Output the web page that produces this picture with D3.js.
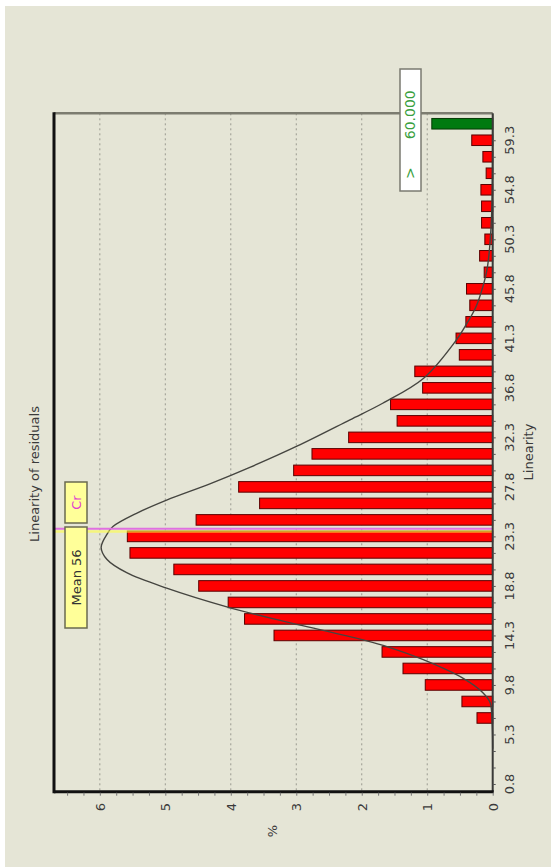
<!DOCTYPE html>
<html lang="en">
<head>
<meta charset="UTF-8">
<title>Linearity of residuals</title>
<style>
  body { margin: 0; background: #fff; }
  svg text { font-family: "DejaVu Sans", Verdana, sans-serif; fill: #3a3a3a; }
</style>
<script src="https://cdn.jsdelivr.net/npm/d3@7"></script>
</head>
<body>
<svg id="chart" width="551" height="867"></svg>
<script>
// histogram bins (centre of each linearity class); the last one is the "> 60.000" overflow
const binCenters = [0.8, 2.3, 3.8, 5.3, 6.8, 8.3, 9.8, 11.3, 12.8, 14.3,
                    15.8, 17.3, 18.8, 20.3, 21.8, 23.3, 24.8, 26.3, 27.8, 29.3,
                    30.8, 32.3, 33.8, 35.3, 36.8, 38.3, 39.8, 41.3, 42.8, 44.3,
                    45.8, 47.3, 48.8, 50.3, 51.8, 53.3, 54.8, 56.3, 57.8, 59.3,
                    60.8];
const binPercent = [0, 0, 0, 0, 0.24, 0.47, 1.03, 1.37, 1.69, 3.34,
                    3.79, 4.04, 4.49, 4.87, 5.54, 5.58, 4.53, 3.56, 3.88, 3.04,
                    2.76, 2.20, 1.46, 1.56, 1.07, 1.19, 0.51, 0.56, 0.41, 0.35,
                    0.40, 0.13, 0.20, 0.12, 0.17, 0.17, 0.18, 0.10, 0.15, 0.32,
                    0.93];

// fitted curve
const curveLin = [4.0, 6.5, 8.2, 9.1, 10.4, 12.1, 13.2, 13.9, 15.6, 16.9, 18.6, 20.0,
                  21.2, 22.3, 23.6, 24.2, 25.4, 26.6, 28.1, 29.6, 31.5, 33.9, 35.4,
                  37.7, 41.1, 42.3, 44.1, 46.0, 47.8, 52.0, 61.7];
const curvePct = [0.0, 0.01, 0.04, 0.15, 0.45, 1.06, 1.57, 1.98, 3.20, 4.06, 4.98, 5.59,
                  5.89, 5.98, 5.88, 5.80, 5.44, 4.98, 4.31, 3.70, 2.99, 2.18, 1.68,
                  1.05, 0.56, 0.43, 0.26, 0.15, 0.08, 0.02, 0.0];

const linTicks = [0.8, 5.3, 9.8, 14.3, 18.8, 23.3, 27.8, 32.3, 36.8, 41.3, 45.8, 50.3, 54.8, 59.3];
const pctTicks = [0, 1, 2, 3, 4, 5, 6];

const meanValue = 23.75;
const crValue = 24.0;
const overflowLabel = "60.000";

// the chart is drawn rotated: linearity runs up the page, % runs right-to-left
const plotLeft = 54, plotRight = 492.7, plotTop = 113.3, plotBottom = 791.7;
const yLin = d3.scaleLinear().domain([0.1, 61.75]).range([plotBottom, plotTop]);
const xPct = d3.scaleLinear().domain([0, 6.7]).range([plotRight, plotLeft]);

const svg = d3.select("#chart");

svg.append("rect")
    .attr("x", 5).attr("y", 6).attr("width", 546).attr("height", 861)
    .attr("fill", "#e5e5d6");

// grid
svg.append("g").selectAll("line")
    .data(pctTicks.filter(d => d > 0))
    .join("line")
    .attr("x1", d => xPct(d)).attr("x2", d => xPct(d))
    .attr("y1", plotTop).attr("y2", plotBottom)
    .attr("stroke", "#9a9a90").attr("stroke-width", 1)
    .attr("stroke-dasharray", "2,3");

// bars
const bins = binCenters.map((c, i) => ({ c, p: binPercent[i], over: i === binCenters.length - 1 }));
svg.append("g").selectAll("rect")
    .data(bins.filter(d => d.p > 0))
    .join("rect")
    .attr("x", d => xPct(d.p))
    .attr("width", d => xPct(0) - xPct(d.p))
    .attr("y", d => yLin(d.c + 0.48))
    .attr("height", d => yLin(d.c - 0.48) - yLin(d.c + 0.48))
    .attr("fill", d => d.over ? "#007a10" : "#ff0000")
    .attr("stroke", d => d.over ? "#063a06" : "#5a0000")
    .attr("stroke-width", 1);

// fitted curve
const pts = curveLin.map((l, i) => [l, curvePct[i]]);
svg.append("path")
    .datum(pts)
    .attr("fill", "none")
    .attr("stroke", "#454540")
    .attr("stroke-width", 1.4)
    .attr("d", d3.line()
        .x(d => xPct(d[1]))
        .y(d => yLin(d[0]))
        .curve(d3.curveCatmullRom));

// cr and mean lines
svg.append("line")
    .attr("x1", plotLeft).attr("x2", plotRight)
    .attr("y1", yLin(meanValue)).attr("y2", yLin(meanValue))
    .attr("stroke", "#ffff40").attr("stroke-opacity", 0.6).attr("stroke-width", 2.5);
svg.append("line")
    .attr("x1", plotLeft).attr("x2", plotRight)
    .attr("y1", yLin(crValue)).attr("y2", yLin(crValue))
    .attr("stroke", "#e070e0").attr("stroke-width", 2);

// frame
svg.append("line").attr("x1", plotLeft).attr("x2", plotRight).attr("y1", plotTop).attr("y2", plotTop)
    .attr("stroke", "#7c7c70").attr("stroke-width", 2.5);
svg.append("line").attr("x1", plotRight).attr("x2", plotRight).attr("y1", plotTop).attr("y2", plotBottom)
    .attr("stroke", "#3a3a38").attr("stroke-width", 2);
svg.append("line").attr("x1", plotLeft).attr("x2", plotLeft).attr("y1", plotTop - 1).attr("y2", plotBottom + 1.5)
    .attr("stroke", "#111").attr("stroke-width", 3);
svg.append("line").attr("x1", plotLeft).attr("x2", plotRight + 1).attr("y1", plotBottom).attr("y2", plotBottom)
    .attr("stroke", "#111").attr("stroke-width", 3);

// linearity axis (right side of the page)
const linAxis = svg.append("g")
    .attr("transform", `translate(${plotRight},0)`)
    .call(d3.axisRight(yLin).tickValues(binCenters.slice(0, -1)).tickSize(3).tickFormat(""));
linAxis.select(".domain").remove();
linAxis.selectAll("line").attr("stroke", "#555");

svg.append("g").selectAll("text")
    .data(linTicks)
    .join("text")
    .attr("transform", d => `translate(514,${yLin(d)}) rotate(-90)`)
    .attr("text-anchor", "middle")
    .attr("font-size", 13)
    .text(d => d.toFixed(1));

// % axis (bottom of the page)
const pctAxis = svg.append("g")
    .attr("transform", `translate(0,${plotBottom + 1})`)
    .call(d3.axisBottom(xPct).tickValues(d3.range(0, 6.75, 0.25)).tickSize(3).tickFormat(""));
pctAxis.select(".domain").remove();
pctAxis.selectAll("line").attr("stroke", "#777");

svg.append("g").selectAll("text")
    .data(pctTicks)
    .join("text")
    .attr("transform", d => `translate(${xPct(d) + 5},803) rotate(-90)`)
    .attr("text-anchor", "end")
    .attr("font-size", 13)
    .text(d => d);

// titles
svg.append("text")
    .attr("transform", "translate(39,474) rotate(-90)")
    .attr("text-anchor", "middle")
    .attr("font-size", 13)
    .text("Linearity of residuals");
svg.append("text")
    .attr("transform", "translate(533,452) rotate(-90)")
    .attr("text-anchor", "middle")
    .attr("font-size", 13)
    .text("Linearity");
svg.append("text")
    .attr("transform", "translate(277,831) rotate(-90)")
    .attr("text-anchor", "middle")
    .attr("font-size", 13)
    .text("%");

// labels for the mean and cr lines
function tag(y0, y1, label, color) {
    svg.append("rect")
        .attr("x", 65).attr("y", y0).attr("width", 22).attr("height", y1 - y0)
        .attr("fill", "#ffff99").attr("stroke", "#6a6a50").attr("stroke-width", 1.5);
    svg.append("text")
        .attr("transform", `translate(81,${(y0 + y1) / 2}) rotate(-90)`)
        .attr("text-anchor", "middle")
        .attr("font-size", 13)
        .style("fill", color)
        .text(label);
}
tag(527, 628, "Mean 56", "#333");
tag(482, 523, "Cr", "#e040d0");

// overflow box
svg.append("rect")
    .attr("x", 400).attr("y", 69).attr("width", 21).attr("height", 122)
    .attr("fill", "#fff").attr("stroke", "#7a7a70").attr("stroke-width", 1.5);
const ov = svg.append("text")
    .attr("transform", "translate(415,179) rotate(-90)")
    .attr("font-size", 14)
    .style("fill", "#3aa040");
ov.append("tspan").text(">");
ov.append("tspan").attr("dx", 28).text(overflowLabel);
</script>
</body>
</html>
